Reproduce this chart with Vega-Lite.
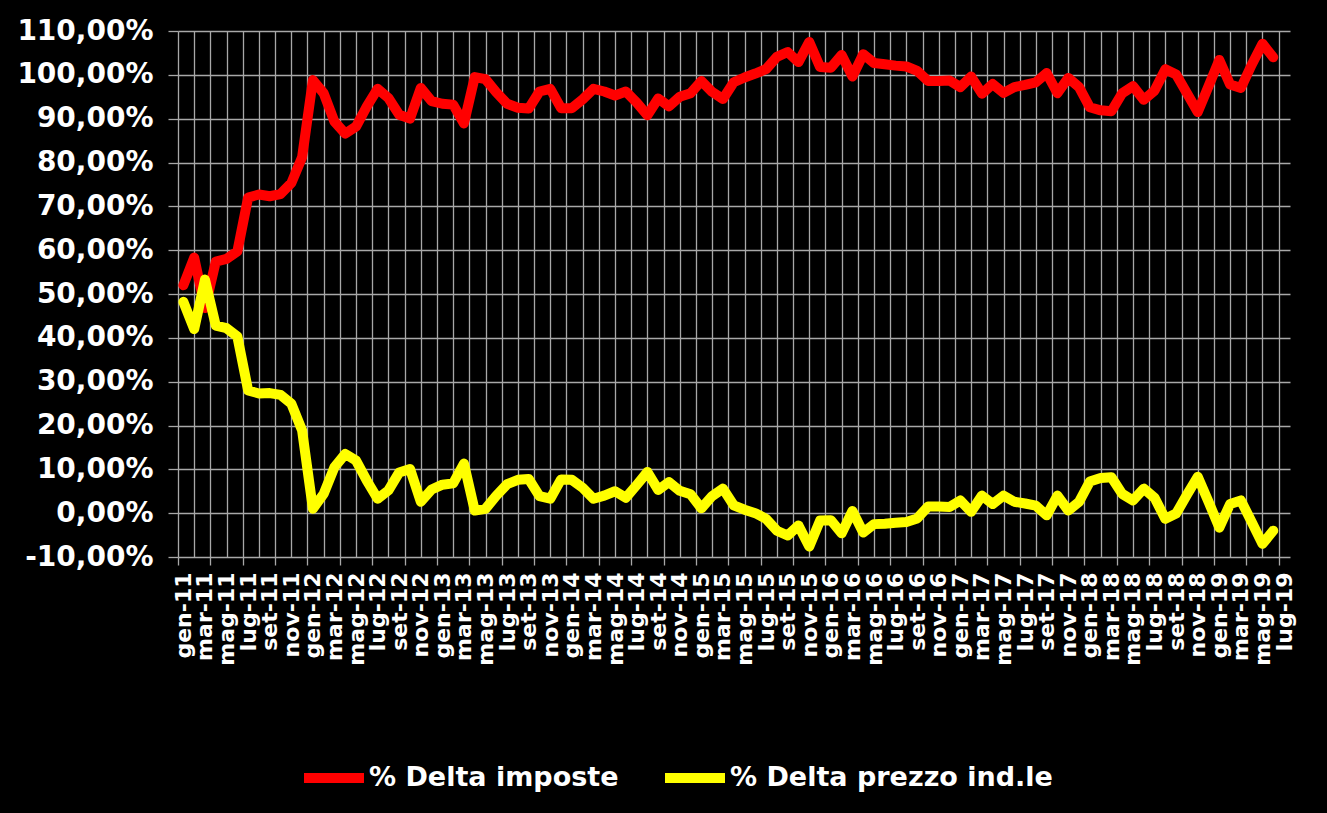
{
  "$schema": "https://vega.github.io/schema/vega-lite/v6.json",
  "width": 1112,
  "height": 526,
  "autosize": {"type": "none"},
  "padding": {"left": 178, "top": 31, "right": 37, "bottom": 256},
  "background": "#000000",
  "config": {
    "view": {"stroke": null},
    "font": "DejaVu Sans"
  },
  "data": {
    "values": [
      {"i": 0, "imposte": 52.0, "prezzo": 48.2},
      {"i": 1, "imposte": 58.3, "prezzo": 42.0},
      {"i": 2, "imposte": 46.8, "prezzo": 53.3},
      {"i": 3, "imposte": 57.4, "prezzo": 42.8},
      {"i": 4, "imposte": 58.0, "prezzo": 42.2},
      {"i": 5, "imposte": 59.7, "prezzo": 40.3},
      {"i": 6, "imposte": 72.0, "prezzo": 28.0},
      {"i": 7, "imposte": 72.7, "prezzo": 27.3},
      {"i": 8, "imposte": 72.3, "prezzo": 27.4},
      {"i": 9, "imposte": 72.8, "prezzo": 27.0},
      {"i": 10, "imposte": 75.3, "prezzo": 25.0},
      {"i": 11, "imposte": 81.2, "prezzo": 18.9},
      {"i": 12, "imposte": 98.8, "prezzo": 1.0},
      {"i": 13, "imposte": 95.8, "prezzo": 4.4},
      {"i": 14, "imposte": 89.3, "prezzo": 10.5},
      {"i": 15, "imposte": 86.6, "prezzo": 13.5},
      {"i": 16, "imposte": 88.2, "prezzo": 12.0},
      {"i": 17, "imposte": 92.8, "prezzo": 7.4},
      {"i": 18, "imposte": 96.8, "prezzo": 3.3},
      {"i": 19, "imposte": 94.7, "prezzo": 5.2},
      {"i": 20, "imposte": 90.9, "prezzo": 9.3},
      {"i": 21, "imposte": 90.0, "prezzo": 10.1},
      {"i": 22, "imposte": 97.0, "prezzo": 2.6},
      {"i": 23, "imposte": 94.0, "prezzo": 5.4},
      {"i": 24, "imposte": 93.4, "prezzo": 6.5},
      {"i": 25, "imposte": 93.2, "prezzo": 6.8},
      {"i": 26, "imposte": 88.9, "prezzo": 11.3},
      {"i": 27, "imposte": 99.5, "prezzo": 0.6},
      {"i": 28, "imposte": 99.0, "prezzo": 1.0},
      {"i": 29, "imposte": 96.0, "prezzo": 4.0},
      {"i": 30, "imposte": 93.4, "prezzo": 6.6},
      {"i": 31, "imposte": 92.5, "prezzo": 7.6},
      {"i": 32, "imposte": 92.3, "prezzo": 7.8},
      {"i": 33, "imposte": 96.2, "prezzo": 3.9},
      {"i": 34, "imposte": 96.8, "prezzo": 3.3},
      {"i": 35, "imposte": 92.4, "prezzo": 7.7},
      {"i": 36, "imposte": 92.4, "prezzo": 7.6},
      {"i": 37, "imposte": 94.4, "prezzo": 5.8},
      {"i": 38, "imposte": 96.8, "prezzo": 3.3},
      {"i": 39, "imposte": 96.2, "prezzo": 4.0},
      {"i": 40, "imposte": 95.3, "prezzo": 5.0},
      {"i": 41, "imposte": 96.2, "prezzo": 3.5},
      {"i": 42, "imposte": 93.7, "prezzo": 6.4},
      {"i": 43, "imposte": 90.8, "prezzo": 9.4},
      {"i": 44, "imposte": 94.6, "prezzo": 5.3},
      {"i": 45, "imposte": 92.8, "prezzo": 7.1},
      {"i": 46, "imposte": 95.0, "prezzo": 5.1},
      {"i": 47, "imposte": 95.8, "prezzo": 4.3},
      {"i": 48, "imposte": 98.6, "prezzo": 1.1},
      {"i": 49, "imposte": 96.1, "prezzo": 3.9},
      {"i": 50, "imposte": 94.5, "prezzo": 5.6},
      {"i": 51, "imposte": 98.3, "prezzo": 1.8},
      {"i": 52, "imposte": 99.4, "prezzo": 0.8},
      {"i": 53, "imposte": 100.3, "prezzo": 0.0},
      {"i": 54, "imposte": 101.3, "prezzo": -1.3},
      {"i": 55, "imposte": 104.1, "prezzo": -4.0},
      {"i": 56, "imposte": 105.2, "prezzo": -5.1},
      {"i": 57, "imposte": 102.9, "prezzo": -2.8},
      {"i": 58, "imposte": 107.5, "prezzo": -7.6},
      {"i": 59, "imposte": 101.8, "prezzo": -1.7},
      {"i": 60, "imposte": 101.6, "prezzo": -1.6},
      {"i": 61, "imposte": 104.5, "prezzo": -4.6},
      {"i": 62, "imposte": 99.6, "prezzo": 0.5},
      {"i": 63, "imposte": 104.7, "prezzo": -4.4},
      {"i": 64, "imposte": 102.7, "prezzo": -2.5},
      {"i": 65, "imposte": 102.4, "prezzo": -2.4},
      {"i": 66, "imposte": 102.1, "prezzo": -2.2},
      {"i": 67, "imposte": 101.9, "prezzo": -2.0},
      {"i": 68, "imposte": 100.9, "prezzo": -1.2},
      {"i": 69, "imposte": 98.6, "prezzo": 1.5},
      {"i": 70, "imposte": 98.6, "prezzo": 1.5},
      {"i": 71, "imposte": 98.7, "prezzo": 1.4},
      {"i": 72, "imposte": 97.2, "prezzo": 2.9},
      {"i": 73, "imposte": 99.6, "prezzo": 0.3},
      {"i": 74, "imposte": 95.7, "prezzo": 4.0},
      {"i": 75, "imposte": 97.9, "prezzo": 2.1},
      {"i": 76, "imposte": 95.9, "prezzo": 4.0},
      {"i": 77, "imposte": 97.2, "prezzo": 2.6},
      {"i": 78, "imposte": 97.7, "prezzo": 2.2},
      {"i": 79, "imposte": 98.3, "prezzo": 1.7},
      {"i": 80, "imposte": 100.4, "prezzo": -0.5},
      {"i": 81, "imposte": 95.8, "prezzo": 4.0},
      {"i": 82, "imposte": 99.3, "prezzo": 0.6},
      {"i": 83, "imposte": 97.2, "prezzo": 2.6},
      {"i": 84, "imposte": 92.6, "prezzo": 7.2},
      {"i": 85, "imposte": 91.9, "prezzo": 8.0},
      {"i": 86, "imposte": 91.7, "prezzo": 8.2},
      {"i": 87, "imposte": 95.8, "prezzo": 4.4},
      {"i": 88, "imposte": 97.4, "prezzo": 2.9},
      {"i": 89, "imposte": 94.3, "prezzo": 5.6},
      {"i": 90, "imposte": 96.4, "prezzo": 3.5},
      {"i": 91, "imposte": 101.3, "prezzo": -1.3},
      {"i": 92, "imposte": 100.1, "prezzo": -0.1},
      {"i": 93, "imposte": 95.8, "prezzo": 4.2},
      {"i": 94, "imposte": 91.5, "prezzo": 8.3},
      {"i": 95, "imposte": 97.4, "prezzo": 2.6},
      {"i": 96, "imposte": 103.4, "prezzo": -3.3},
      {"i": 97, "imposte": 97.8, "prezzo": 2.1},
      {"i": 98, "imposte": 97.0, "prezzo": 2.9},
      {"i": 99, "imposte": 102.3, "prezzo": -2.0},
      {"i": 100, "imposte": 107.1, "prezzo": -7.0},
      {"i": 101, "imposte": 104.0, "prezzo": -4.0}
    ]
  },
  "transform": [
    {"fold": ["imposte", "prezzo"], "as": ["serie", "v"]}
  ],
  "mark": {"type": "line", "strokeWidth": 10, "strokeCap": "round", "strokeJoin": "round"},
  "encoding": {
    "x": {
      "field": "i",
      "type": "quantitative",
      "scale": {"domain": [-0.5, 102.55], "nice": false, "zero": false},
      "axis": {
        "title": null,
        "domain": false,
        "values": [0, 2, 4, 6, 8, 10, 12, 14, 16, 18, 20, 22, 24, 26, 28, 30, 32, 34, 36, 38, 40, 42, 44, 46, 48, 50, 52, 54, 56, 58, 60, 62, 64, 66, 68, 70, 72, 74, 76, 78, 80, 82, 84, 86, 88, 90, 92, 94, 96, 98, 100, 102,
          -0.5, 1, 2.5, 5.5, 7, 8.5, 11.5, 13, 14.5, 17.5, 19, 20.5, 23.5, 25, 26.5, 29.5, 31, 32.5, 35.5, 37, 38.5, 41.5, 43, 44.5, 47.5, 49, 50.5, 53.5, 55, 56.5, 59.5, 61, 62.5, 65.5, 67, 68.5, 71.5, 73, 74.5, 77.5, 79, 80.5, 83.5, 85, 86.5, 89.5, 91, 92.5, 95.5, 97, 98.5, 101.5],
        "grid": true,
        "gridColor": "#a8a8a8",
        "gridWidth": 1.3,
        "gridOpacity": {"condition": {"test": "(datum.value + 0.5) % 1.5 == 0", "value": 1}, "value": 0},
        "ticks": true,
        "tickSize": 8,
        "tickColor": "#a8a8a8",
        "tickWidth": 1.3,
        "tickOpacity": {"condition": {"test": "(datum.value + 0.5) % 3 == 0", "value": 1}, "value": 0},
        "labelExpr": "datum.value % 2 == 0 ? ['gen','feb','mar','apr','mag','giu','lug','ago','set','ott','nov','dic'][datum.value % 12] + '-' + (11 + floor(datum.value / 12)) : ''",
        "labelAngle": -90,
        "labelAlign": "right",
        "labelBaseline": "middle",
        "labelFont": "DejaVu Sans",
        "labelFontWeight": "bold",
        "labelFontSize": 22,
        "labelColor": "#ffffff",
        "labelPadding": 7,
        "labelOverlap": false,
        "labelFlush": false,
        "labelBound": false,
        "labelLimit": 300
      }
    },
    "y": {
      "field": "v",
      "type": "quantitative",
      "scale": {"domain": [-10, 110], "nice": false, "zero": false},
      "axis": {
        "title": null,
        "domain": false,
        "values": [-10, 0, 10, 20, 30, 40, 50, 60, 70, 80, 90, 100, 110],
        "grid": true,
        "gridColor": "#a8a8a8",
        "gridWidth": 1.3,
        "ticks": true,
        "tickSize": 10,
        "tickColor": "#a8a8a8",
        "tickWidth": 1.3,
        "labelExpr": "(datum.value < 0 ? '-' : '') + replace(format(abs(datum.value), '.2f'), '.', ',') + '%'",
        "labelFont": "DejaVu Sans",
        "labelFontWeight": "bold",
        "labelFontSize": 28,
        "labelColor": "#ffffff",
        "labelPadding": 15,
        "labelOverlap": false,
        "labelFlush": false,
        "labelLimit": 300
      }
    },
    "color": {
      "field": "serie",
      "type": "nominal",
      "scale": {"domain": ["imposte", "prezzo"], "range": ["#ff0000", "#ffff00"]},
      "legend": {
        "title": null,
        "orient": "none",
        "legendX": 121,
        "legendY": 712,
        "direction": "horizontal",
        "padding": 0,
        "labelExpr": "datum.label == 'imposte' ? '% Delta imposte' : '% Delta prezzo ind.le'",
        "labelFont": "DejaVu Sans",
        "labelFontWeight": "bold",
        "labelFontSize": 27,
        "labelColor": "#ffffff",
        "labelLimit": 600,
        "labelOffset": 0,
        "columnPadding": 26,
        "symbolType": "stroke",
        "symbolSize": 3600,
        "symbolStrokeWidth": 10
      }
    }
  }
}
